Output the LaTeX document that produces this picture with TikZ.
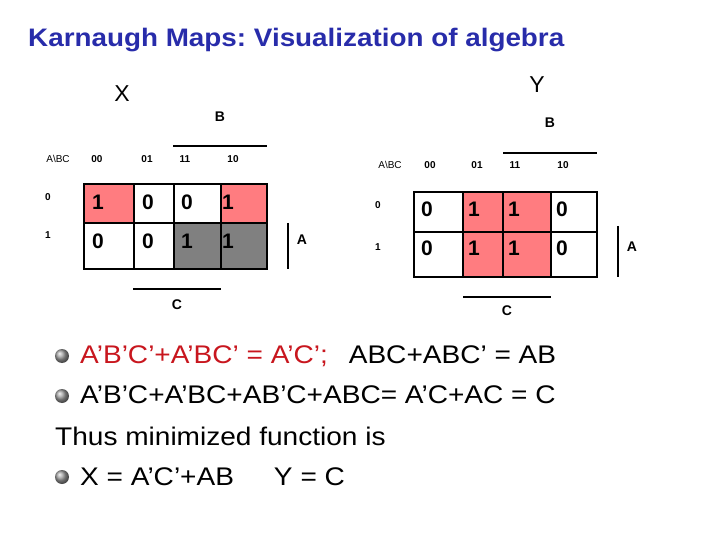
\documentclass[tikz,border=0pt]{standalone}
\usepackage{fontspec}
\setmainfont{Liberation Sans}
\newfontfamily\wide[FakeStretch=1.1]{Liberation Sans}
\usepackage{xcolor}
\definecolor{kred}{RGB}{255,124,128}
\definecolor{kgray}{RGB}{128,128,128}
\definecolor{titleblue}{RGB}{40,44,170}
\definecolor{eqred}{RGB}{200,22,30}
\frenchspacing

\begin{document}
\begin{tikzpicture}[x=1pt,y=-1pt,
        cell/.style={font=\fontsize{21}{21}\selectfont\bfseries,anchor=base west,inner sep=0pt},
        hdr/.style={font=\fontsize{10}{10}\selectfont\bfseries,inner sep=0pt},
        var/.style={font=\fontsize{14}{14}\selectfont\bfseries,inner sep=0pt},
        fname/.style={font=\fontsize{23}{23}\selectfont,inner sep=0pt},
        txt/.style={font=\wide\fontsize{25.5}{25.5}\selectfont,anchor=base west,inner sep=0pt},
        ball/.style={circle,inner sep=0pt,minimum size=14pt,shading=ball,ball color=gray!75}]
        \useasboundingbox (0,0) rectangle (720,540);
        \node[anchor=base west,inner sep=0pt,text=titleblue,font=\wide\fontsize{25.3}{25.3}\selectfont\bfseries] (title) at (28,47) {Karnaugh Maps: Visualization of algebra};
        % map X
        \node[fname] (x) at (122,94) {X};
        \fill[kred] (84,184) rectangle (134,223) (221,184) rectangle (267,223);
        \fill[kgray] (174,223) rectangle (267,269);
        \draw[line width=1.5pt] (84,184) rectangle (267,269) (84,223) -- (267,223);
        \foreach \x in {134,174,221}{\draw[line width=1.5pt] (\x,184) -- (\x,269);}
        \node[hdr,font=\fontsize{10}{10}\selectfont] (xab) at (58,159) {A\textbackslash BC};
        \foreach \t/\x in {00/97,01/147,11/185,10/233}{\node[hdr] (xh\t) at (\x,159) {\t};}
        \node[hdr] (xr0) at (48,197) {0};
        \node[hdr] (xr1) at (48,235) {1};
        \foreach \v/\x/\y [count=\i] in {1/92/210,0/142/210,0/181/210,1/222/210,0/92/248,0/142/248,1/181/248,1/222/248}{\node[cell] (xv\i) at (\x,\y) {\v};}
        \draw[line width=1.5pt] (173,146) -- (267,146);
        \node[var] (xb) at (220,117) {B};
        \draw[line width=1.5pt] (288,223) -- (288,269);
        \node[var] (xa) at (302,240) {A};
        \draw[line width=1.5pt] (133,289) -- (221,289);
        \node[var] (xc) at (177,305) {C};
        % map Y
        \node[fname] (y) at (537,85) {Y};
        \fill[kred] (463,192) rectangle (551,277);
        \draw[line width=1.5pt] (414,192) rectangle (597,277) (414,232) -- (597,232);
        \foreach \x in {463,503,551}{\draw[line width=1.5pt] (\x,192) -- (\x,277);}
        \node[hdr,font=\fontsize{10}{10}\selectfont] (yab) at (390,165) {A\textbackslash BC};
        \foreach \t/\x in {00/430,01/477,11/515,10/563}{\node[hdr] (yh\t) at (\x,165) {\t};}
        \node[hdr] (yr0) at (378,205) {0};
        \node[hdr] (yr1) at (378,247) {1};
        \foreach \v/\x/\y [count=\i] in {0/421/216,1/468/216,1/508/216,0/556/216,0/421/255,1/468/255,1/508/255,0/556/255}{\node[cell] (yv\i) at (\x,\y) {\v};}
        \draw[line width=1.5pt] (503,153) -- (597,153);
        \node[var] (yb) at (550,123) {B};
        \draw[line width=1.5pt] (618,226) -- (618,277);
        \node[var] (ya) at (632,247) {A};
        \draw[line width=1.5pt] (463,297) -- (551,297);
        \node[var] (yc) at (507,311) {C};
        % algebra
        \node[ball] (b1) at (62,356) {};
        \node[txt] (l1) at (80,363) {\textcolor{eqred}{A’B’C’+A’BC’ = A’C’;}\hspace{13pt} ABC+ABC’ = AB};
        \node[ball] (b2) at (62,396) {};
        \node[txt] (l2) at (80,403) {A’B’C+A’BC+AB’C+ABC= A’C+AC = C};
        \node[txt] (l3) at (55,445) {Thus minimized function is};
        \node[ball] (b4) at (62,477) {};
        \node[txt] (l4) at (80,485) {X = A’C’+AB\hspace{40pt}Y = C};
\end{tikzpicture}
\end{document}
